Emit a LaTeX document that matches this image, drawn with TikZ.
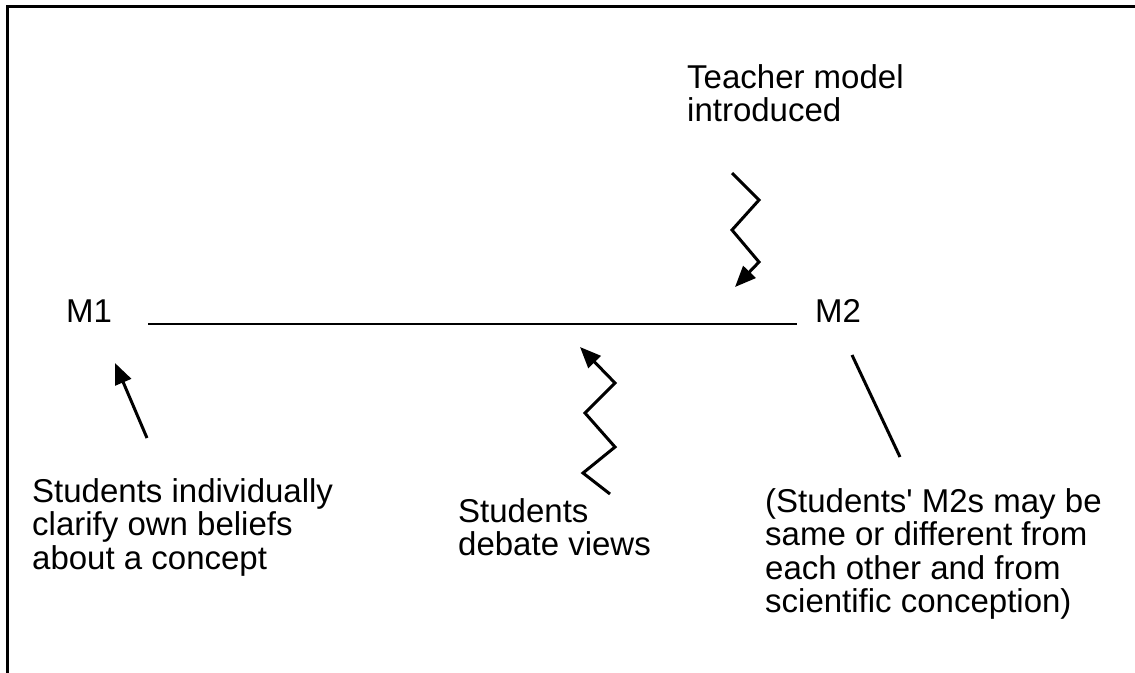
\documentclass[tikz,border=0pt]{standalone}
\usepackage{fontspec}
\newfontfamily\arialfont{Liberation Sans}
\usetikzlibrary{arrows.meta}
\tikzset{
  lbl/.style={inner sep=0pt, font=\arialfont\fontsize{33}{33.5}\selectfont, align=left},
  conn/.style={line width=3pt, line join=miter},
  arr/.style={conn, -{Triangle[length=21pt,width=17pt]}},
}
\begin{document}
\begin{tikzpicture}[x=1pt,y=-1pt]
\useasboundingbox (0,0) rectangle (1135,672);
\draw[line width=3pt] (7.5,700) -- (7.5,6.5) -- (1160,6.5);
% texts
\node[lbl, anchor=base west] (m1) at (66,322) {M1};
\node[lbl, anchor=base west] (m2) at (815,322) {M2};
\node[lbl, anchor=north west] (teach) at (687,64) {Teacher model\\introduced};
\node[lbl, anchor=north west] (indiv) at (32,478) {Students individually\\clarify own beliefs\\about a concept};
\node[lbl, anchor=north west] (debate) at (458,498) {Students\\debate views};
\node[lbl, anchor=north west] (note) at (765,488) {(Students' M2s may be\\same or different from\\each other and from\\scientific conception)};
% main line
\coordinate (ls) at (148,324);
\coordinate (le) at (797,324);
\draw[line width=2.5pt] (ls) -- (le);
% arrow to M1
\coordinate (a1s) at (147,438);
\coordinate (a1e) at (115,363);
\draw[arr] (a1s) -- (a1e);
% teacher zigzag
\coordinate (t0) at (732,173);
\coordinate (t1) at (759,200);
\coordinate (t2) at (732,230);
\coordinate (t3) at (759,262);
\coordinate (t4) at (735,287);
\draw[arr] (t0) -- (t1) -- (t2) -- (t3) -- (t4);
% debate zigzag
\coordinate (d0) at (610,494);
\coordinate (d1) at (583,473);
\coordinate (d2) at (615,447);
\coordinate (d3) at (585,413);
\coordinate (d4) at (615,383);
\coordinate (d5) at (580,347);
\draw[arr] (d0) -- (d1) -- (d2) -- (d3) -- (d4) -- (d5);
% M2 line
\coordinate (n0) at (852,355);
\coordinate (n1) at (900,457);
\draw[conn] (n0) -- (n1);
\end{tikzpicture}
\end{document}
